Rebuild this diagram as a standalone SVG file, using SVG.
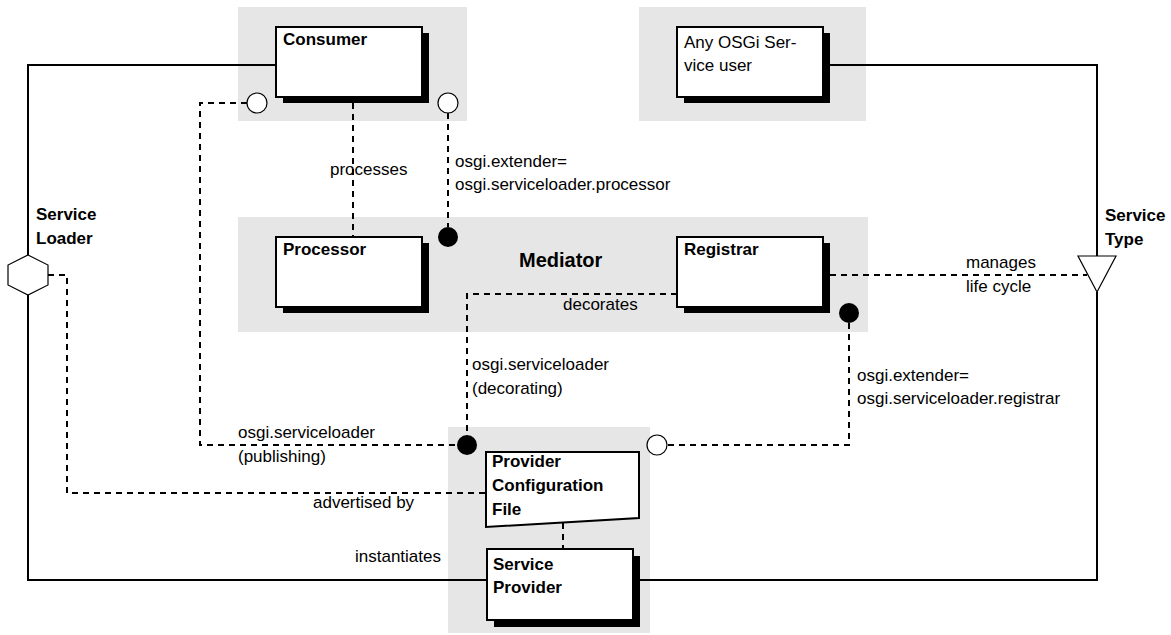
<svg xmlns="http://www.w3.org/2000/svg" width="1171" height="635" viewBox="0 0 1171 635">
<style>
.bg{fill:#e6e6e6;stroke:none}
.box{fill:#fff;stroke:#000;stroke-width:2}
.sh{fill:#000}
.t{font-family:"Liberation Sans",Arial,sans-serif;font-size:17px;fill:#000}
.b{font-weight:bold}
.solid{fill:none;stroke:#000;stroke-width:2}
.dash{fill:none;stroke:#000;stroke-width:2;stroke-dasharray:6 5}
.open{fill:#fff;stroke:#000;stroke-width:1.2}
.fill{fill:#000}
.sym{fill:#fff;stroke:#000;stroke-width:1.2}
</style>
<g id="bundle-consumer"><rect class="bg" x="238" y="7" width="229" height="114"/></g>
<g id="bundle-user"><rect class="bg" x="639" y="7" width="227" height="114"/></g>
<g id="bundle-mediator"><rect class="bg" x="238" y="217" width="630" height="115"/>
<text class="t b" x="519" y="267" style="font-size:20px">Mediator</text></g>
<g id="bundle-provider"><rect class="bg" x="448" y="427" width="202" height="206"/></g>

<g id="connectors">
<path class="solid" d="M276,65 H28 V255 M28,295 V580 H487"/>
<path class="solid" d="M823,65 H1097 V256 M1097,292 V580 H633"/>
<path class="dash" d="M247,103 H200 V445 H457"/>
<path class="dash" d="M448,113 V227"/>
<path class="dash" d="M353,103 V237"/>
<path class="dash" d="M677,294 H467 V435"/>
<path class="dash" d="M849,323 V445 H667"/>
<path class="dash" d="M830,275 H1087"/>
<path class="dash" d="M48,275 H67 V493 H486"/>
<path class="dash" d="M563,523 V549"/>
<circle class="open" cx="257" cy="103" r="10"/>
<circle class="open" cx="448" cy="103" r="10"/>
<circle class="fill" cx="448" cy="237" r="10"/>
<circle class="fill" cx="849" cy="313" r="10"/>
<circle class="fill" cx="467" cy="445" r="10"/>
<circle class="open" cx="657" cy="445" r="10"/>
<text class="t" x="330" y="175">processes</text>
<text class="t" x="455" y="167">osgi.extender=</text>
<text class="t" x="455" y="190">osgi.serviceloader.processor</text>
<text class="t" x="966" y="268">manages</text>
<text class="t" x="966" y="292">life cycle</text>
<text class="t" x="563" y="310">decorates</text>
<text class="t" x="472" y="370">osgi.serviceloader</text>
<text class="t" x="472" y="394">(decorating)</text>
<text class="t" x="857" y="381">osgi.extender=</text>
<text class="t" x="857" y="404">osgi.serviceloader.registrar</text>
<text class="t" x="238" y="438">osgi.serviceloader</text>
<text class="t" x="238" y="462">(publishing)</text>
<text class="t" x="313" y="508">advertised by</text>
<text class="t" x="355" y="562">instantiates</text>
</g>

<g id="consumer"><rect class="sh" x="283" y="33" width="146" height="70"/><rect class="box" x="276" y="27" width="146" height="70"/><text class="t b" x="283" y="45">Consumer</text></g>
<g id="any-user"><rect class="sh" x="684" y="33" width="146" height="70"/><rect class="box" x="677" y="27" width="146" height="70"/><text class="t" x="684" y="48">Any OSGi Ser-</text><text class="t" x="684" y="71">vice user</text></g>
<g id="processor"><rect class="sh" x="283" y="243" width="146" height="70"/><rect class="box" x="276" y="237" width="146" height="70"/><text class="t b" x="283" y="255">Processor</text></g>
<g id="registrar"><rect class="sh" x="684" y="243" width="146" height="70"/><rect class="box" x="677" y="237" width="146" height="70"/><text class="t b" x="684" y="255">Registrar</text></g>
<g id="provider-config"><polygon class="box" points="486,452 639,452 639,518 486,527"/><text class="t b" x="492" y="467">Provider</text><text class="t b" x="492" y="491">Configuration</text><text class="t b" x="492" y="515">File</text></g>
<g id="service-provider"><rect class="sh" x="494" y="556" width="146" height="71"/><rect class="box" x="487" y="549" width="146" height="71"/><text class="t b" x="493" y="570">Service</text><text class="t b" x="493" y="593">Provider</text></g>
<g id="service-loader"><polygon class="sym" points="28,255 48,265 48,285 28,295 8,285 8,265"/><text class="t b" x="36" y="220">Service</text><text class="t b" x="36" y="244">Loader</text></g>
<g id="service-type"><polygon class="sym" points="1078,256 1116,256 1097,292"/><text class="t b" x="1105" y="221">Service</text><text class="t b" x="1105" y="245">Type</text></g>
</svg>
